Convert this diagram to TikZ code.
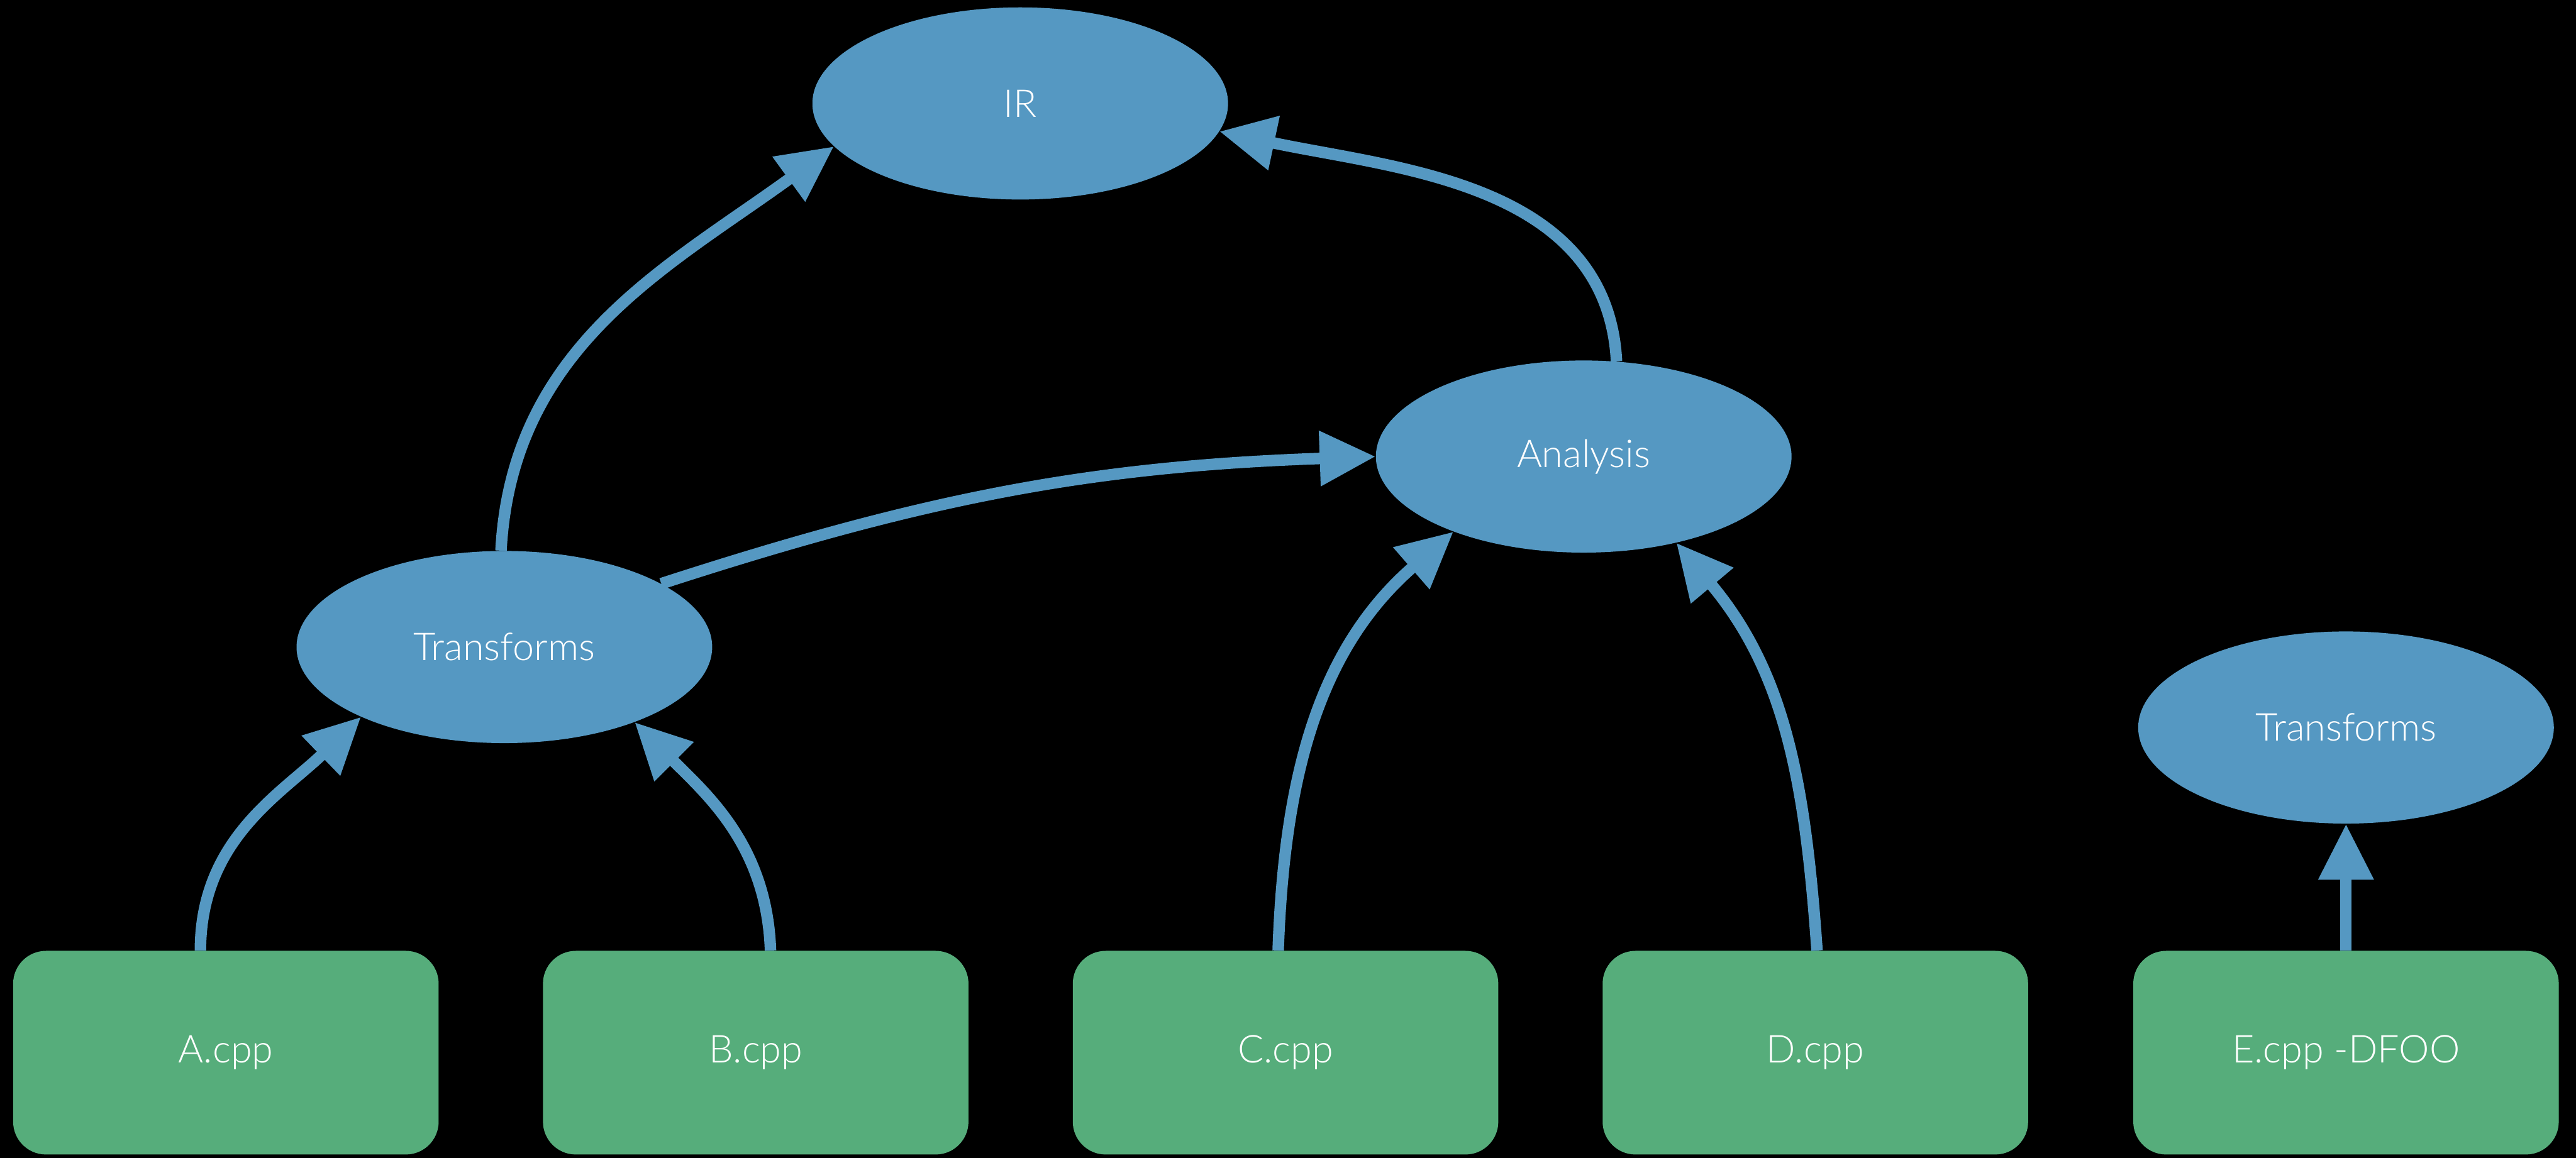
\documentclass[tikz,border=0pt]{standalone}
\usepackage{fontspec}
\setmainfont{Lato}[UprightFont=* Light]
\usetikzlibrary{arrows.meta,shapes.geometric}
\definecolor{nodeblue}{HTML}{5598C2}
\definecolor{boxgreen}{HTML}{56AD7B}
\begin{document}
\begin{tikzpicture}[x=1pt,y=1pt,
  bubble/.style={ellipse,fill=nodeblue,minimum width=253pt,minimum height=117pt,inner sep=0pt,text=white,font=\fontsize{23.4}{28}\selectfont},
  srcbox/.style={rectangle,rounded corners=20pt,fill=boxgreen,minimum width=259pt,minimum height=124pt,inner sep=0pt,text=white,font=\fontsize{23.4}{28}\selectfont},
  flow/.style={draw=nodeblue,line width=7pt,-{Triangle[length=34pt,width=32pt]}}]
\fill[black] (0,0) rectangle (1568,705);
\useasboundingbox (0,0) rectangle (1568,705);
\node[bubble] (IR) at (621,642) {IR};
\node[bubble] (AN) at (964,427) {Analysis};
\node[bubble] (T1) at (307,311) {Transforms};
\node[bubble] (T2) at (1428,262) {Transforms};
\node[srcbox] (A) at (137.5,64) {A.cpp};
\node[srcbox] (B) at (460,64) {B.cpp};
\node[srcbox] (C) at (782.5,64) {C.cpp};
\node[srcbox] (D) at (1105,64) {D.cpp};
\node[srcbox] (E) at (1428,64) {E.cpp -DFOO};
\draw[flow] ([xshift=-15.5pt]A.north) to[out=90,in=224] (T1.206);
\draw[flow] ([xshift=9pt]B.north) to[out=92,in=-45] (T1.-30.5);
\draw[flow] (T1.92) to[out=87,in=216] (IR.193);
\draw[flow] (T1.22) to[out=18,in=182] (AN.west);
\draw[flow] (AN.71) to[out=93,in=-12] (IR.-8);
\draw[flow] ([xshift=-4.5pt]C.north) to[out=88,in=221] (AN.210);
\draw[flow] ([xshift=1pt]D.north) to[out=94,in=-50] (AN.-43);
\draw[flow] (E.north) -- (T2.south);
\end{tikzpicture}
\end{document}
